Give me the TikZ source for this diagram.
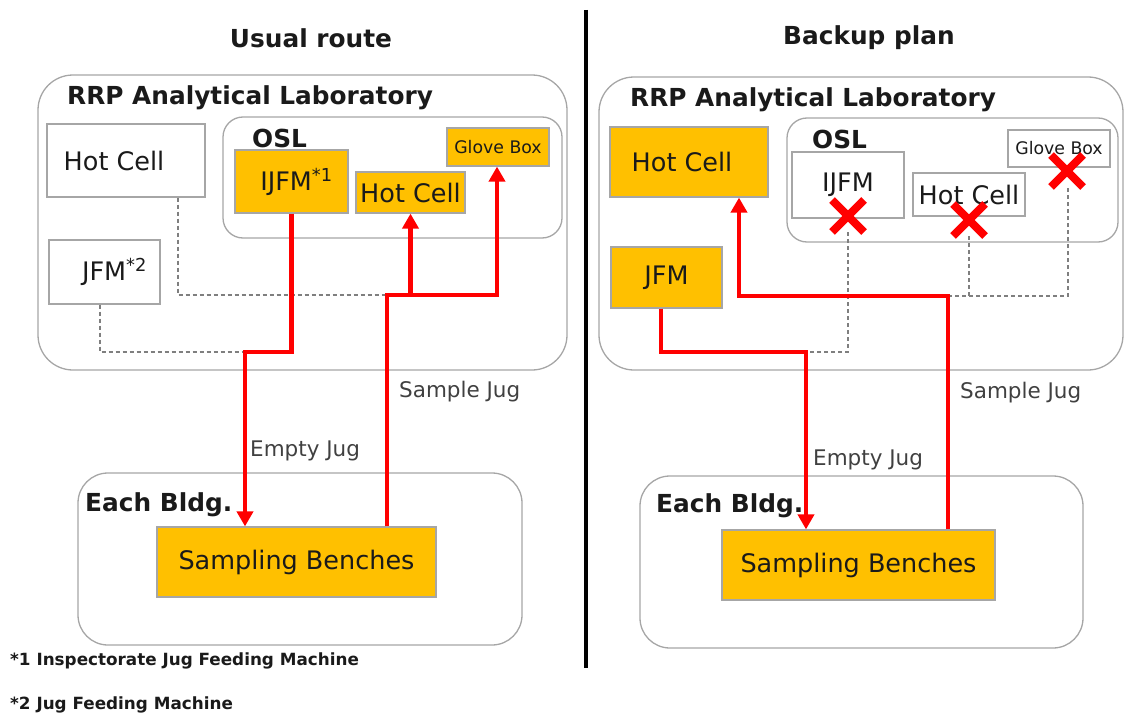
\documentclass[tikz,border=0pt]{standalone}
\usepackage{fontspec}
\setmainfont{DejaVu Sans}
\usetikzlibrary{arrows.meta,shapes.misc}
\definecolor{gold}{HTML}{FFC000}
\definecolor{boxgray}{HTML}{A6A6A6}
\definecolor{areagray}{HTML}{A6A6A6}
\definecolor{dashgray}{HTML}{7F7F7F}
\definecolor{txt}{HTML}{1A1A1A}
\definecolor{lbl}{HTML}{404040}
\begin{document}
\begin{tikzpicture}[x=1pt,y=-1pt,
  wbox/.style={draw=boxgray, fill=white, line width=1.2pt, inner sep=0pt, text=txt, font=\fontsize{25.5}{29}\selectfont},
  obox/.style={wbox, fill=gold},
  area/.style={draw=areagray, line width=1.3pt, rounded corners=#1, inner sep=0pt},
  area/.default=35pt,
  heading/.style={font=\fontsize{24.8}{28}\selectfont\bfseries, text=txt, inner sep=0pt},
  lbltext/.style={font=\fontsize{21.5}{25}\selectfont, text=lbl, inner sep=0pt, anchor=west},
  foot/.style={font=\fontsize{16.8}{20}\selectfont\bfseries, text=txt, inner sep=0pt, anchor=west},
  redline/.style={draw=red, line width=4.5pt},
  redarrow/.style={redline, -{Triangle[width=16pt,length=15pt]}},
  dashline/.style={draw=dashgray, line width=1.8pt, dash pattern=on 4pt off 3pt},
  xmark/.style={cross out, draw=red, line width=8pt, minimum size=24pt, inner sep=0pt}
]
\useasboundingbox (0,0) rectangle (1125,717);

% ---------- divider ----------
\coordinate (dtop) at (586,10);
\coordinate (dbot) at (586,668);
\draw[line width=4pt, black] (dtop) -- (dbot);

% ---------- titles ----------
\node[heading] (t1) at (311,38) {Usual route};
\node[heading] (t2) at (869,38) {Backup plan};

% ================= LEFT =================
\node[area, minimum width=529pt, minimum height=295pt] (lrrp) at (302.5,222.5) {};
\node[heading, anchor=west] (lrrpt) at (67,98) {RRP Analytical Laboratory};
\node[area=20pt, minimum width=339pt, minimum height=121pt] (losl) at (392.5,177.5) {};
\node[heading, anchor=west] (loslt) at (252,138) {OSL};

\node[wbox, minimum width=158pt, minimum height=73pt] (lhot) at (126,160.5) {Hot Cell\hspace*{24pt}};
\node[wbox, minimum width=111pt, minimum height=64pt] (ljfm) at (104.5,272) {\hspace*{20pt}JFM\textsuperscript{*2}};
\node[obox, minimum width=113pt, minimum height=63pt] (lijfm) at (291.5,181.5) {\hspace*{10pt}IJFM\textsuperscript{*1}};
\node[obox, minimum width=109pt, minimum height=41pt] (lhc2) at (410.5,192.5) {Hot Cell};
\node[obox, minimum width=102pt, minimum height=38pt, font=\fontsize{17.3}{20}\selectfont] (lgb) at (498,147) {Glove Box};

\node[area=30pt, minimum width=444pt, minimum height=172pt] (lbldg) at (300,559) {};
\node[heading, anchor=west] (lbldgt) at (85,505) {Each Bldg.};
\node[obox, minimum width=279pt, minimum height=70pt] (lsb) at (296.5,562) {Sampling Benches};

\coordinate (la) at (245,352);
\coordinate (lb) at (387,295);
\coordinate (lc) at (497,295);
\coordinate (ld) at (410.5,295);
\coordinate (le) at (178,295);
\coordinate (lf) at (100,352);

\draw[dashline] (lhot.south -| le) -- (le) -- (lb);
\draw[dashline] (ljfm.south -| lf) -- (lf) -- (la);

\draw[redarrow] (lijfm.south) |- (la) -- (lsb.north -| la);
\draw[redarrow] (lsb.north -| lb) -- (lb) -- (lc) -- (lgb.south -| lc);
\draw[redarrow] (ld) -- (lhc2.south);

\node[lbltext] (lsj) at (399,392) {Sample Jug};
\node[lbltext] (lej) at (250,451) {Empty Jug};

% ================= RIGHT =================
\node[area, minimum width=524pt, minimum height=293pt] (rrrp) at (861,223.5) {};
\node[heading, anchor=west] (rrrpt) at (630,100) {RRP Analytical Laboratory};
\node[area=20pt, minimum width=331pt, minimum height=124pt] (rosl) at (952.5,180) {};
\node[heading, anchor=west] (roslt) at (812,139) {OSL};

\node[obox, minimum width=158pt, minimum height=70pt] (rhot) at (689,162) {Hot Cell\hspace*{14pt}};
\node[obox, minimum width=111pt, minimum height=61pt] (rjfm) at (666.5,277.5) {JFM};
\node[wbox, minimum width=112pt, minimum height=66pt] (rijfm) at (848,185) {IJFM};
\node[wbox, minimum width=112pt, minimum height=43pt] (rhc2) at (969,194.5) {Hot Cell};
\node[wbox, minimum width=102pt, minimum height=37pt, font=\fontsize{17.3}{20}\selectfont] (rgb) at (1059,148.5) {Glove Box};

\node[xmark] (x1) at (848,216) {};
\node[xmark] (x2) at (969,220) {};
\node[xmark] (x3) at (1067,171) {};

\node[area=30pt, minimum width=443pt, minimum height=172pt] (rbldg) at (861.5,562) {};
\node[heading, anchor=west] (rbldgt) at (656,506) {Each Bldg.};
\node[obox, minimum width=273pt, minimum height=70pt] (rsb) at (858.5,565) {Sampling Benches};

\coordinate (ra) at (661,352);
\coordinate (rb) at (806,352);
\coordinate (rc) at (948,296);
\coordinate (rd) at (739,296);
\coordinate (re) at (848,352);
\coordinate (rf) at (969,296);
\coordinate (rg) at (1068,296);

\draw[dashline] (x1.south) -- (re) -- (rb);
\draw[dashline] (x2.south) -- (rf);
\draw[dashline] (rc) -- (rg) -- (x3.south -| rg);

\draw[redarrow] (rjfm.south -| ra) -- (ra) -- (rb) -- (rsb.north -| rb);
\draw[redarrow] (rsb.north -| rc) -- (rc) -- (rd) -- (rhot.south -| rd);

\node[lbltext] (rsj) at (960,393) {Sample Jug};
\node[lbltext] (rej) at (813,460) {Empty Jug};

% ---------- footnotes ----------
\node[foot] (f1) at (10,661) {*1 Inspectorate Jug Feeding Machine};
\node[foot] (f2) at (10,705) {*2 Jug Feeding Machine};
\end{tikzpicture}
\end{document}
